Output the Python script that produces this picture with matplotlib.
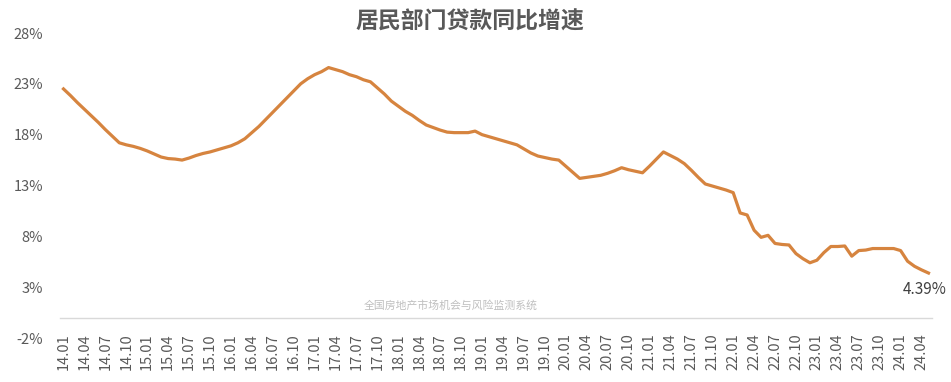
import matplotlib.pyplot as plt
import numpy as np

plt.rcParams['font.family'] = ['Noto Sans CJK SC', 'DejaVu Sans']

# monthly values, 14.01 .. 24.05
y2014 = [22.5, 21.85, 21.15, 20.5, 19.85, 19.2, 18.5, 17.85, 17.2, 17.0, 16.85, 16.65]
y2015 = [16.4, 16.1, 15.8, 15.65, 15.6, 15.5, 15.7, 15.95, 16.15, 16.3, 16.5, 16.7]
y2016 = [16.9, 17.2, 17.6, 18.2, 18.8, 19.5, 20.2, 20.9, 21.6, 22.3, 23.0, 23.5]
y2017 = [23.9, 24.2, 24.6, 24.4, 24.2, 23.9, 23.7, 23.4, 23.2, 22.6, 22.0, 21.3]
y2018 = [20.8, 20.3, 19.9, 19.4, 18.95, 18.7, 18.45, 18.25, 18.2, 18.2, 18.2, 18.35]
y2019 = [18.0, 17.8, 17.6, 17.4, 17.2, 17.0, 16.6, 16.2, 15.9, 15.75, 15.6, 15.5]
y2020 = [14.9, 14.3, 13.7, 13.8, 13.9, 14.0, 14.2, 14.45, 14.75, 14.55, 14.4, 14.25]
y2021 = [14.9, 15.6, 16.3, 15.95, 15.6, 15.15, 14.5, 13.8, 13.15, 12.95, 12.75, 12.55]
y2022 = [12.3, 10.3, 10.1, 8.6, 7.9, 8.1, 7.3, 7.2, 7.15, 6.3, 5.8, 5.4]
y2023 = [5.65, 6.4, 7.0, 7.0, 7.05, 6.05, 6.6, 6.65, 6.8, 6.8, 6.8, 6.8]
y2024 = [6.6, 5.55, 5.05, 4.7, 4.39]

values = y2014 + y2015 + y2016 + y2017 + y2018 + y2019 + y2020 + y2021 + y2022 + y2023 + y2024
months = []
for yr in range(14, 25):
    for m in range(1, 13):
        months.append("%02d.%02d" % (yr, m))
months = months[:len(values)]

yticks = [-2, 3, 8, 13, 18, 23, 28]

fig = plt.figure(figsize=(9.51, 3.82), dpi=100)
ax = fig.add_axes([60 / 951, 44 / 382, 872 / 951, 305 / 382])

# spine position first, it resets the ticks
for s in ['top', 'right', 'left']:
    ax.spines[s].set_visible(False)
ax.spines['bottom'].set_position(('data', 0))
ax.spines['bottom'].set_color('#d9d9d9')
ax.spines['bottom'].set_linewidth(1)

x = np.arange(len(values))
ax.plot(x, values, color='#D6843F', linewidth=2.3, solid_joinstyle='round')

ax.set_xlim(-0.5, len(values) - 0.5)
ax.set_ylim(-2, 28)
ax.set_yticks(yticks)
ax.set_yticklabels([str(v) + "%" for v in yticks])
ax.tick_params(axis='y', length=0, pad=12, labelsize=10.5, labelcolor='#595959')

ax.set_xticks(x[::3])
ax.set_xticklabels(months[::3])
ax.tick_params(axis='x', length=0, pad=11, labelsize=10.5, labelcolor='#595959',
               labelrotation=90)

ax.annotate("%.2f%%" % values[-1], (x[-1], values[-1]), xytext=(-3, -12),
            textcoords='offset points', ha='center', va='center',
            fontsize=11, color='#404040')

fig.text(470 / 951, 1 - 22 / 382, "居民部门贷款同比增速", ha='center', va='center',
         fontsize=16.5, fontweight='bold', color='#595959')
fig.text(451 / 951, 1 - 305 / 382, "全国房地产市场机会与风险监测系统", ha='center', va='center',
         fontsize=7.8, color='#bfbfbf')

fig.savefig("out.png", dpi=100)
